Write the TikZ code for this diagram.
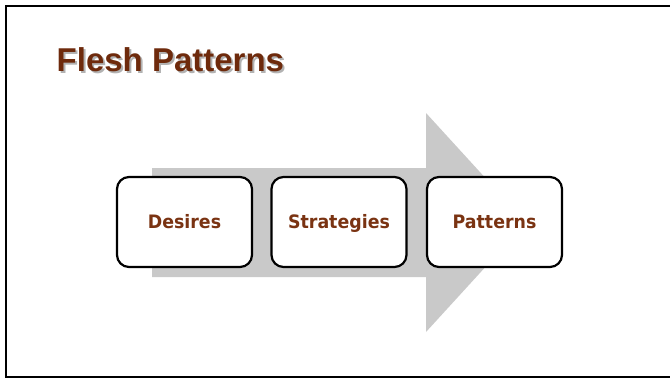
\documentclass[tikz,border=0pt]{standalone}
\usepackage{fontspec}
\newfontfamily\titlefont{Liberation Sans}
\newfontfamily\boxfont{DejaVu Sans}[FakeStretch=0.94]
\definecolor{brownt}{HTML}{6E2A0C}
\definecolor{brownb}{HTML}{7A3312}
\definecolor{arrowgray}{HTML}{C9C9C9}
\begin{document}
\begin{tikzpicture}[x=1pt,y=-1pt,
  stepbox/.style={draw=black,line width=2.2pt,rounded corners=12pt,fill=white,
    minimum width=135pt,minimum height=90pt,inner sep=0pt,
    text height=14pt,text depth=1.4pt,
    font=\boxfont\bfseries\fontsize{18.5}{20}\selectfont,text=brownb},
  titletext/.style={anchor=base west,inner sep=0pt,font=\titlefont\bfseries\fontsize{33}{36}\selectfont},
  frame/.style={draw=black,line width=2pt}]
\useasboundingbox (0,0) rectangle (670,380);
\fill[white] (0,0) rectangle (670,380);
\draw[frame] (680,5.5) -- (5.5,5.5) -- (5.5,377) -- (680,377);
% title with shadow
\node[titletext,text=black!30] (tshadow) at (58.5,73.5) {Flesh Patterns};
\node[titletext,text=brownt] (title) at (56.5,71.7) {Flesh Patterns};
% big arrow
\fill[arrowgray] (152,168) -- (426,168) -- (426,113) -- (526,222.5) -- (426,332) -- (426,277) -- (152,277) -- cycle;
% boxes
\node[stepbox] (desires) at (184.5,222) {Desires};
\node[stepbox] (strategies) at (339,222) {Strategies};
\node[stepbox] (patterns) at (494.5,222) {Patterns};
\end{tikzpicture}
\end{document}
